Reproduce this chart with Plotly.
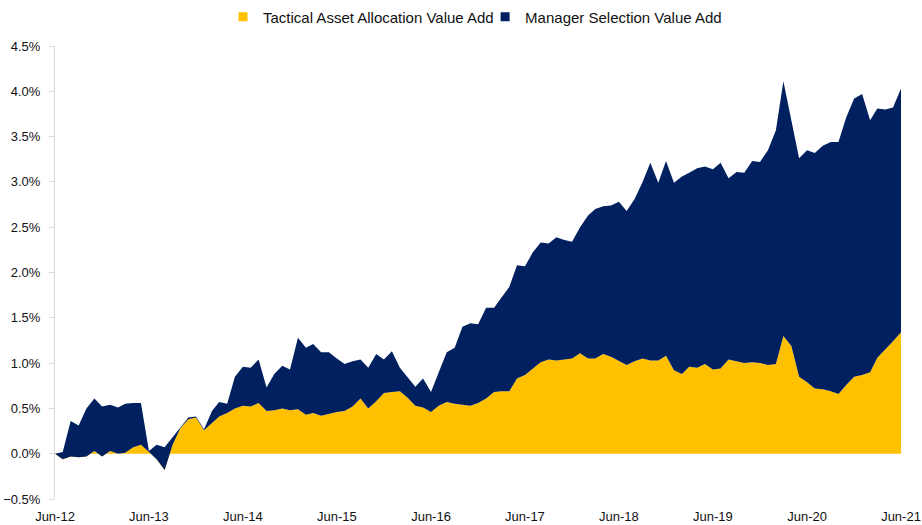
import pandas as pd
import plotly.graph_objects as go

# monthly, Jun-12 .. Jun-21 (cumulative value add, %)
months = pd.date_range("2012-06-01", "2021-06-01", freq="MS")

taa_value_add = [
    0.00, -0.06, -0.03, -0.04, -0.03, 0.03, -0.03, 0.03, 0.00, 0.01, 0.07, 0.10,
    0.02, -0.06, -0.18, 0.10, 0.28, 0.38, 0.40, 0.26, 0.34, 0.41, 0.45, 0.50,
    0.53, 0.52, 0.56, 0.47, 0.48, 0.50, 0.48, 0.49, 0.43, 0.45, 0.42, 0.44,
    0.46, 0.47, 0.52, 0.61, 0.50, 0.58, 0.67, 0.68, 0.69, 0.62, 0.53, 0.51,
    0.46, 0.53, 0.57, 0.55, 0.54, 0.53, 0.56, 0.61, 0.68, 0.69, 0.69, 0.83,
    0.87, 0.94, 1.01, 1.04, 1.03, 1.04, 1.05, 1.11, 1.05, 1.05, 1.10, 1.07,
    1.02, 0.98, 1.02, 1.05, 1.03, 1.03, 1.08, 0.92, 0.88, 0.96, 0.95, 0.99,
    0.93, 0.94, 1.04, 1.02, 1.00, 1.01, 1.00, 0.98, 0.99, 1.30, 1.19, 0.85,
    0.79, 0.72, 0.71, 0.69, 0.66, 0.76, 0.85, 0.87, 0.90, 1.06, 1.15, 1.24,
    1.34,
]

ms_value_add = [
    0.00, 0.08, 0.39, 0.35, 0.53, 0.58, 0.55, 0.51, 0.51, 0.54, 0.49, 0.46,
    0.01, 0.16, 0.25, 0.08, 0.01, 0.02, 0.01, 0.01, 0.13, 0.16, 0.10, 0.35,
    0.43, 0.43, 0.48, 0.26, 0.40, 0.47, 0.45, 0.79, 0.74, 0.76, 0.70, 0.68,
    0.59, 0.52, 0.50, 0.43, 0.45, 0.52, 0.37, 0.45, 0.26, 0.23, 0.21, 0.32,
    0.22, 0.37, 0.55, 0.62, 0.86, 0.91, 0.87, 1.00, 0.93, 1.03, 1.15, 1.25,
    1.20, 1.28, 1.32, 1.28, 1.36, 1.32, 1.29, 1.39, 1.58, 1.65, 1.63, 1.67,
    1.76, 1.70, 1.79, 1.95, 2.18, 1.96, 2.15, 2.07, 2.18, 2.14, 2.20, 2.18,
    2.21, 2.27, 2.00, 2.09, 2.10, 2.22, 2.22, 2.37, 2.58, 2.81, 2.49, 2.41,
    2.56, 2.60, 2.69, 2.75, 2.78, 2.96, 3.07, 3.10, 2.78, 2.75, 2.65, 2.58,
    2.69,
]

series_names = ["Tactical Asset Allocation Value Add", "Manager Selection Value Add"]
tick_dates = pd.date_range("2012-06-01", "2021-06-01", freq="12MS")

GOLD = "#FFC000"
NAVY = "#002060"
AXIS_GREY = "#D9D9D9"
FONT = "Liberation Sans, Arial, sans-serif"

fig = go.Figure()

# stacked areas (Excel-style stacking)
for name, vals, col in [(series_names[0], taa_value_add, GOLD),
                        (series_names[1], ms_value_add, NAVY)]:
    fig.add_trace(go.Scatter(
        x=months, y=vals, name=name, stackgroup="va", mode="lines",
        line=dict(width=0, color=col), fillcolor=col,
        showlegend=False, hoverinfo="x+y+name",
    ))

# legend entries as square markers, one legend box each so they sit close
for name, col, lg in [(series_names[0], GOLD, "legend"),
                      (series_names[1], NAVY, "legend2")]:
    fig.add_trace(go.Scatter(
        x=[None], y=[None], mode="markers", name=name, legend=lg,
        marker=dict(symbol="square", size=9, color=col),
    ))

x_range = [months[0], months[-1]]
legend_style = dict(
    orientation="h", xanchor="left", y=1.064, yanchor="middle",
    font=dict(size=15), itemclick=False, bgcolor="rgba(0,0,0,0)",
)

fig.update_layout(
    width=922, height=525,
    margin=dict(l=55, r=21, t=46, b=26, autoexpand=False),
    paper_bgcolor="white", plot_bgcolor="white",
    font=dict(family=FONT, size=13, color="#111111"),
    showlegend=True,
    legend=dict(x=0.1986, **legend_style),
    legend2=dict(x=0.5084, **legend_style),
    xaxis=dict(
        type="date", range=x_range, tickvals=tick_dates, tickformat="%b-%y",
        showgrid=False, zeroline=False, showline=False, ticks="",
        ticklabelstandoff=8, automargin=False,
    ),
    # axis line drawn through y = 0 with tick marks below it
    xaxis2=dict(
        type="date", range=x_range, overlaying="x", anchor="free",
        position=0.1, tickvals=tick_dates, showticklabels=False,
        showgrid=False, zeroline=False, showline=True, linecolor=AXIS_GREY,
        linewidth=2, ticks="outside", ticklen=4, tickcolor=AXIS_GREY,
        tickwidth=1, automargin=False,
    ),
    yaxis=dict(
        range=[-0.5, 4.5], dtick=0.5, tick0=0, tickformat=".1f",
        ticksuffix="%", showgrid=False, zeroline=False, showline=True,
        linecolor=AXIS_GREY, linewidth=1, ticks="outside", ticklen=5,
        tickcolor=AXIS_GREY, ticklabelstandoff=6, automargin=False,
    ),
)

# page body has a default 8px margin; drop it so the figure sits at the corner
fig.write_html(
    "out.html",
    config={"displayModeBar": False},
    post_script="document.body.style.margin = '0';",
)
